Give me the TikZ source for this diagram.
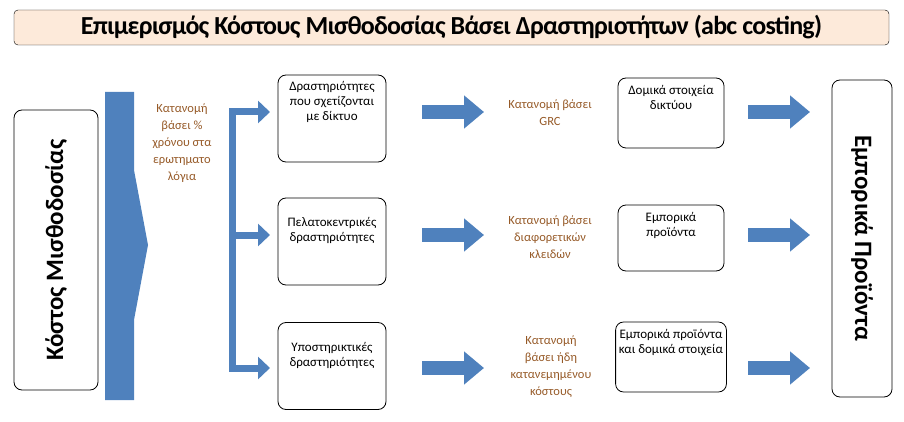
\documentclass[tikz,border=0pt]{standalone}
\usepackage{fontspec}
\setmainfont{Carlito}
\usetikzlibrary{arrows.meta}
\definecolor{flowblue}{RGB}{79,129,189}
\definecolor{peach}{RGB}{253,234,218}
\definecolor{rulebrown}{RGB}{150,90,40}
\tikzset{
  actbox/.style={draw,rounded corners=8pt,thick,align=center,font=\fontsize{13}{15}\selectfont,minimum width=108pt},
  rulelbl/.style={text=rulebrown,align=center,font=\fontsize{12.5}{17}\selectfont},
  fatarrow/.style={flowblue,line width=14pt,-{Triangle[length=20pt,width=32pt]}},
  branch/.style={flowblue,line width=7pt,-{Triangle[length=12pt,width=22pt]}}
}
\begin{document}
\begin{tikzpicture}[x=1pt,y=-1pt]
\useasboundingbox (0,0) rectangle (904,422);
%title
\node[draw,fill=peach,rounded corners=4pt,minimum width=875pt,minimum height=35pt,
font=\bfseries\fontsize{26}{28}\selectfont,inner xsep=0pt](title)at(451.5,27.5)
{\addfontfeatures{LetterSpace=-3}Επιμερισμός Κόστους Μισθοδοσίας Βάσει Δραστηριοτήτων (abc costing)};
%left and right boxes
\node[draw,rounded corners=8pt,thick,minimum width=84pt,minimum height=280pt](cost)at(56,250){};
\node[rotate=90,font=\bfseries\fontsize{25}{28}\selectfont]at(cost){Κόστος Μισθοδοσίας};
\node[draw,rounded corners=8pt,thick,minimum width=60pt,minimum height=317pt](prod)at(862,238.5){};
\node[rotate=-90,font=\bfseries\fontsize{25}{28}\selectfont]at(prod){Εμπορικά Προϊόντα};
%big arrow
\fill[flowblue](105,92)--(134,92)--(134,170)--(148,245)--(134,320)--(134,400)--(105,400)--cycle;
\node[rulelbl](split)at(182,143){Κατανομή\\βάσει \%\\χρόνου στα\\ερωτηματο\\λόγια};
%branches
\draw[flowblue,line width=7pt](232.5,112)--(232.5,368);
\node[actbox,minimum height=87pt](a1)at(332,118.5){Δραστηριότητες\\που σχετίζονται\\με δίκτυο\\[20pt]};
\node[actbox,minimum height=87pt](a2)at(332,241.5){Πελατοκεντρικές\\δραστηριότητες\\[10pt]};
\node[actbox,minimum height=87pt](a3)at(332,366){Υποστηρικτικές\\δραστηριότητες\\[8pt]};
\foreach \y/\n in {112/a1,235/a2,368/a3}
  \draw[branch](229,\y)--(270,\y);
%rules
\node[rulelbl](r1)at(550,113){Κατανομή βάσει\\GRC};
\node[rulelbl](r2)at(550,237){Κατανομή βάσει\\διαφορετικών\\κλειδών};
\node[rulelbl](r3)at(551,367){Κατανομή\\βάσει ήδη\\κατανεμημένου\\κόστους};
%targets
\node[actbox,minimum width=106pt,minimum height=70pt](b1)at(671,113){Δομικά στοιχεία\\δικτύου\\[16pt]};
\node[actbox,minimum width=106pt,minimum height=66pt](b2)at(671,238){Εμπορικά\\προϊόντα\\[12pt]};
\node[actbox,minimum width=106pt,minimum height=70pt](b3)at(671,357){Εμπορικά προϊόντα\\και δομικά στοιχεία\\[16pt]};
\foreach \y in {112,235,368}{
  \draw[fatarrow](422,\y)--(484,\y);
  \draw[fatarrow](748,\y)--(810,\y);
}
\end{tikzpicture}
\end{document}
